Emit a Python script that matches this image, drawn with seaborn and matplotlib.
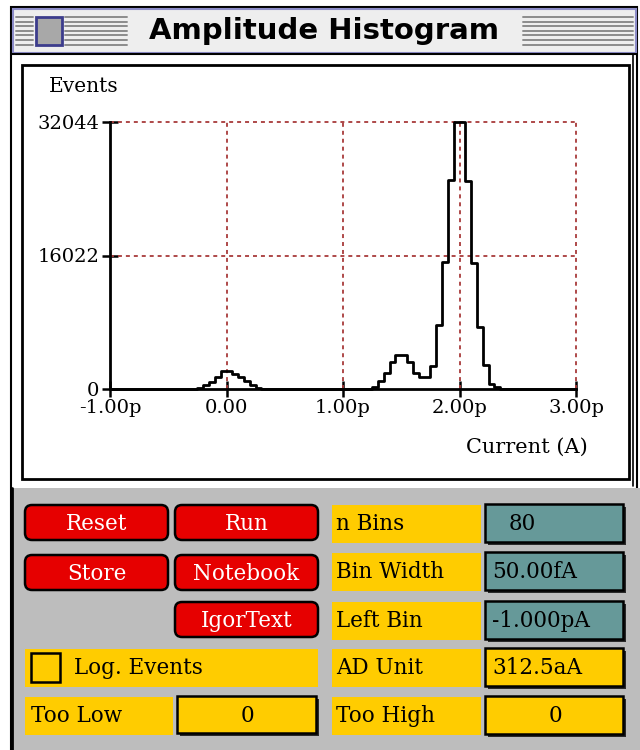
import numpy as np
import pandas as pd
import matplotlib
matplotlib.use("Agg")
import matplotlib.pyplot as plt
import seaborn as sns
from matplotlib.patches import Rectangle, FancyBboxPatch

# ---- histogram data ----
N_BINS = 80
BIN_WIDTH = 0.05      # pA
LEFT_BIN = -1.0       # pA
bin_left_pA = [-0.25, -0.20, -0.15, -0.10, -0.05, 0.00, 0.05, 0.10, 0.15, 0.20, 0.25,
               1.25, 1.30, 1.35, 1.40, 1.45, 1.50, 1.55, 1.60, 1.65, 1.70, 1.75,
               1.80, 1.85, 1.90, 1.95, 2.00, 2.05, 2.10, 2.15, 2.20, 2.25, 2.30]
events = [150, 480, 880, 1400, 2200, 2200, 1800, 1400, 920, 480, 150,
          280, 1000, 1880, 3200, 4100, 4100, 3200, 1880, 1400, 1400, 2800,
          7700, 15300, 25100, 32044, 32044, 25000, 15100, 7400, 2850, 640, 280]

x_ticks = [-1, 0, 1, 2, 3]
x_ticklabels = ["-1.00p", "0.00", "1.00p", "2.00p", "3.00p"]
y_ticks = [0, 16022, 32044]
y_ticklabels = ["0", "16022", "32044"]

# ---- control panel contents ----
buttons = ["Reset", "Run", "Store", "Notebook", "IgorText"]
field_labels = ["n Bins", "Bin Width", "Left Bin", "AD Unit", "Too High"]
field_values = ["80", "50.00fA", "-1.000pA", "312.5aA", "0"]
too_low_value = "0"

RED = "#e60000"
YELLOW = "#ffcc00"
TEAL = "#669999"
GRAY = "#bdbdbd"
GRID = "#a83a3a"
LAV = "#8c8cc8"
SERIF = "DejaVu Serif"
FS = 15.5

sns.set_theme(style="white")
plt.rcParams["font.family"] = [SERIF, "DejaVu Sans"]
plt.rcParams.update({"text.color": "black", "xtick.color": "black",
                     "ytick.color": "black", "axes.labelcolor": "black"})

fig = plt.figure(figsize=(6.4, 7.5), dpi=100)
fig.patch.set_facecolor("white")

# background layer in pixel coords (y down)
bg = fig.add_axes([0, 0, 1, 1])
bg.set_xlim(0, 640)
bg.set_ylim(750, 0)
bg.axis("off")


def rect(x, y, w, h, fc, ec="none", lw=0, z=1):
    bg.add_patch(Rectangle((x, y), w, h, facecolor=fc, edgecolor=ec, linewidth=lw, zorder=z))


# window + title bar
rect(11, 7, 626, 743, "white", "black", 1.5, 0)
rect(12.5, 8.5, 623, 44, "#eeeeee", LAV, 1.5, 1)
bg.plot([11, 637], [53.5, 53.5], color="black", lw=1.5, zorder=2)
for yy in np.arange(17, 46, 4.6):
    bg.plot([16, 33], [yy, yy], color="#8c8c8c", lw=1.4, zorder=2)
    bg.plot([65, 127], [yy, yy], color="#8c8c8c", lw=1.4, zorder=2)
    bg.plot([523, 633], [yy, yy], color="#8c8c8c", lw=1.4, zorder=2)
rect(36, 17, 26, 28, "#a8a8a8", "#3c3c8c", 2, 3)
bg.text(324, 31, "Amplitude Histogram", ha="center", va="center",
        fontsize=21, fontweight="bold", family="DejaVu Sans", zorder=3)

# plot frame
rect(22, 65, 607, 414, "white", "black", 2, 1)
bg.plot([633, 633], [55, 486], color="black", lw=1.2, zorder=1)

# control panel
rect(12, 488, 628, 262, GRAY, z=1)
bg.plot([11.5, 11.5], [488, 750], color="black", lw=2, zorder=2)


def button(x, y, w, h, label):
    bg.add_patch(FancyBboxPatch((x, y), w, h, boxstyle="round,pad=0,rounding_size=7",
                                facecolor=RED, edgecolor="black", linewidth=1.8, zorder=3))
    bg.text(x + w / 2, y + h / 2 + 1, label, ha="center", va="center",
            color="white", fontsize=FS, zorder=4)


btn_boxes = [(25, 505), (175, 505), (25, 555), (175, 555), (175, 602)]
for (bx, by), lab in zip(btn_boxes, buttons):
    button(bx, by, 143, 35, lab)


def value_box(x, y, w, h, fc):
    rect(x + 3, y + 3, w, h, "#2a2a2a", z=2)
    rect(x, y, w, h, fc, "black", 1.8, 3)


# left column: log checkbox + too low
rect(25, 649, 293, 38, YELLOW, z=2)
rect(31, 653, 29, 29, "none", "black", 1.8, 3)
bg.text(74, 668, "Log. Events", ha="left", va="center", fontsize=FS, zorder=4)
rect(25, 697, 148, 38, YELLOW, z=2)
bg.text(31, 716, "Too Low", ha="left", va="center", fontsize=FS, zorder=4)
value_box(177, 696, 139, 37, YELLOW)
bg.text(247, 716, too_low_value, ha="center", va="center", fontsize=FS, zorder=4)

# right column: labelled fields
row_y = [505, 553, 602, 649, 697]
for i, (lab, val) in enumerate(zip(field_labels, field_values)):
    y0 = row_y[i]
    rect(332, y0, 149, 38, YELLOW, z=2)
    bg.text(336, y0 + 19, lab, ha="left", va="center", fontsize=FS, zorder=4)
    fc = TEAL if i < 3 else YELLOW
    value_box(485, y0 - 1, 138, 38, fc)
    if val == "80":
        bg.text(522, y0 + 19, val, ha="center", va="center", fontsize=FS, zorder=4)
    elif lab == "Too High":
        bg.text(555, y0 + 19, val, ha="center", va="center", fontsize=FS, zorder=4)
    else:
        bg.text(492, y0 + 19, val, ha="left", va="center", fontsize=FS, zorder=4)

# ---- the histogram itself ----
ax = fig.add_axes([110 / 640, 1 - 389 / 750, 466 / 640, 267 / 750])
ax.patch.set_alpha(0)
hist_df = pd.DataFrame({"current": np.array(bin_left_pA) + BIN_WIDTH / 2,
                        "events": events})
sns.histplot(data=hist_df, x="current", weights="events", bins=N_BINS,
             binrange=(LEFT_BIN, LEFT_BIN + N_BINS * BIN_WIDTH), element="step",
             fill=False, color="black", linewidth=2, ax=ax, zorder=3)
for art in ax.lines + ax.collections + ax.patches:
    art.set_clip_on(False)

ax.set_xlim(-1, 3)
ax.set_ylim(0, 32044)
ax.set_xticks(x_ticks)
ax.set_xticklabels(x_ticklabels)
ax.set_yticks(y_ticks)
ax.set_yticklabels(y_ticklabels)
ax.set_xlabel("")
ax.set_ylabel("")
for s in ["top", "right"]:
    ax.spines[s].set_visible(False)
for s in ["left", "bottom"]:
    ax.spines[s].set_color("black")
    ax.spines[s].set_linewidth(2)
    ax.spines[s].set_zorder(4)
ax.tick_params(axis="both", direction="inout", length=11, width=1.8, color="black",
               labelcolor="black", labelsize=14, pad=2, bottom=True, left=True)
for yv in y_ticks[1:]:
    ax.plot([-1, 3], [yv, yv], color=GRID, lw=1.3, ls=(0, (2.2, 2.2)), zorder=1, clip_on=False)
for xv in x_ticks[1:]:
    ax.plot([xv, xv], [0, 32044], color=GRID, lw=1.3, ls=(0, (2.2, 2.2)), zorder=1, clip_on=False)

fig.text(84 / 640, 1 - 87 / 750, "Events", ha="center", va="center", fontsize=14.5)
fig.text(527 / 640, 1 - 447 / 750, "Current (A)", ha="center", va="center", fontsize=15)

fig.savefig("out.png", dpi=100)
